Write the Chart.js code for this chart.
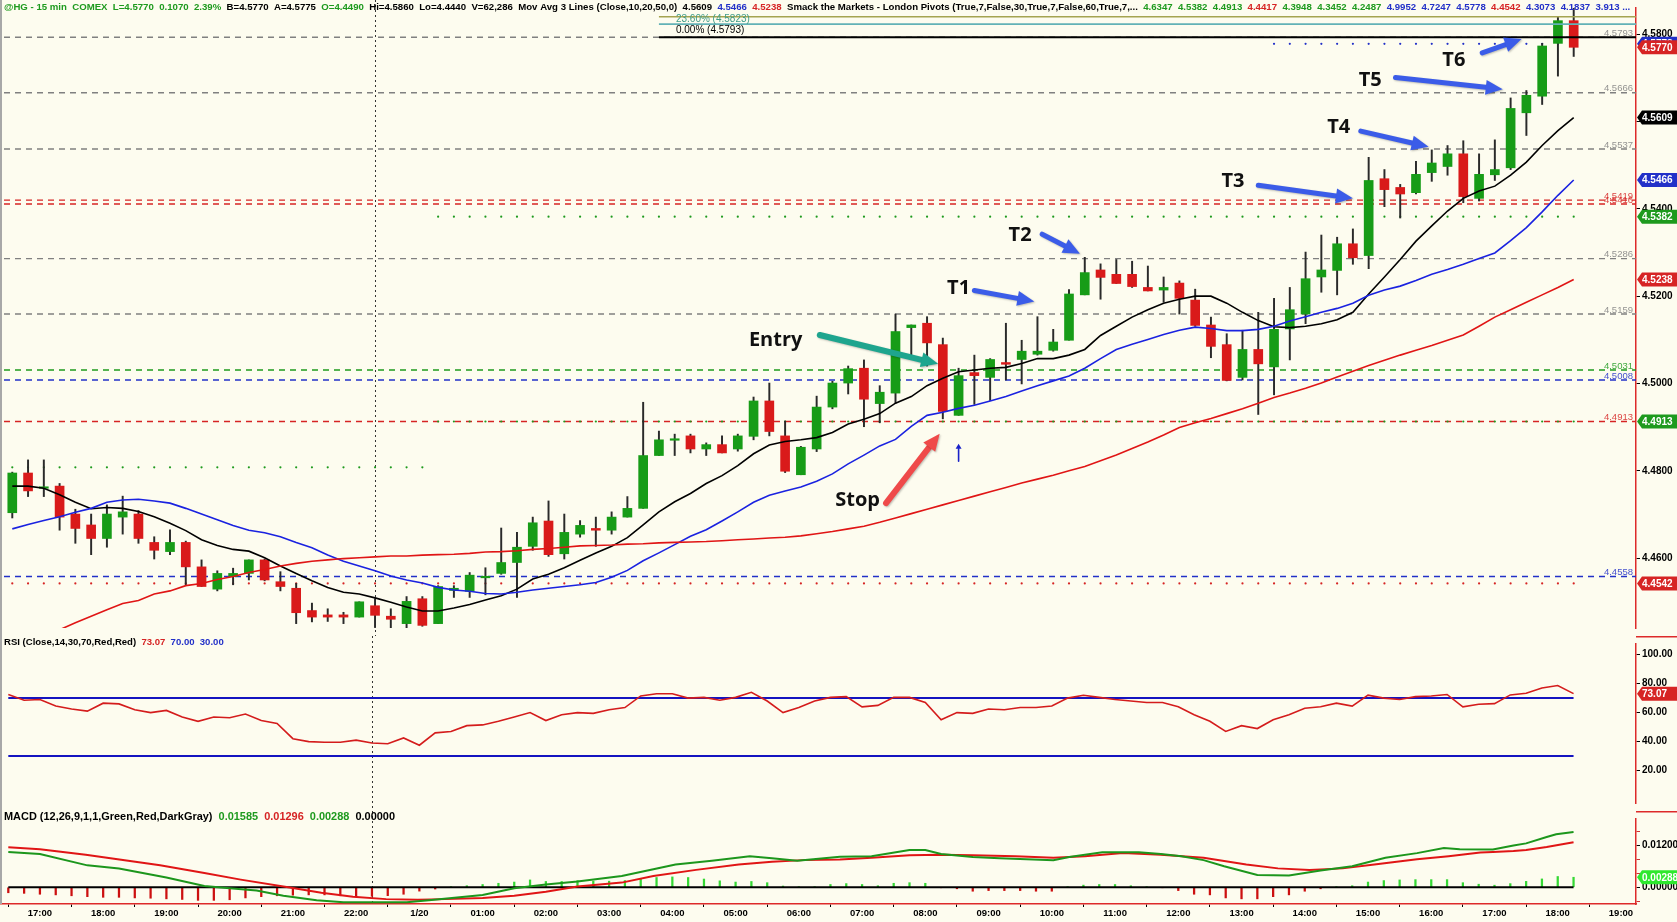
<!DOCTYPE html>
<html>
<head>
<meta charset="utf-8">
<title>@HG - 15 min COMEX</title>
<script src="https://cdn.jsdelivr.net/npm/chart.js@4.4.1/dist/chart.umd.min.js"></script>
<style>
  body { margin: 0; background: #fdfcef; }
  #wrap { position: relative; width: 1677px; height: 922px; overflow: hidden; background: #fdfcef; }
  #wrap canvas { position: absolute; left: 0; }
  #edge { position: absolute; left: 0; top: 0; width: 2px; height: 904px; background: #a8a8a8; }
</style>
</head>
<body>
<div id="wrap">
  <canvas id="price-chart" width="1677" height="636" style="top:0"></canvas>
  <canvas id="rsi-chart" width="1677" height="175" style="top:636px"></canvas>
  <canvas id="macd-chart" width="1677" height="111" style="top:811px"></canvas>
  <div id="edge"></div>
</div>
<script>
// ===== DATA (15 min bars, bar 0 = 16:30) =====
const opens = [4.4704,4.4795,4.4760,4.4765,4.4701,4.4676,4.4645,4.4694,4.4701,4.4636,
  4.4615,4.4636,4.4580,4.4529,4.4558,4.4565,4.4596,4.4546,4.4531,4.4480,
  4.4470,4.4470,4.4465,4.4491,4.4467,4.4450,4.4507,4.4450,4.4526,4.4524,
  4.4555,4.4565,4.4590,4.4627,4.4685,4.4610,4.4655,4.4668,4.4664,4.4694,
  4.4714,4.4835,4.4870,4.4880,4.4850,4.4860,4.4850,4.4879,4.4960,4.4880,
  4.4791,4.4850,4.4946,4.5001,4.5035,4.4954,4.4978,4.5128,4.5138,4.5089,
  4.4927,4.5025,4.5014,4.5048,4.5055,4.5067,4.5076,4.5099,4.5203,4.5260,
  4.5250,4.5250,4.5220,4.5214,4.5230,4.5191,4.5134,4.5089,4.5014,4.5078,
  4.5038,4.5125,4.5159,4.5244,4.5259,4.5320,4.5293,4.5469,4.5449,4.5437,
  4.5483,4.5497,4.5526,4.5424,4.5478,4.5494,4.5620,4.5658,4.5779,4.5831];
const highs = [4.4797,4.4825,4.4825,4.4771,4.4712,4.4701,4.4722,4.4742,4.4709,4.4649,
  4.4665,4.4639,4.4596,4.4571,4.4577,4.4596,4.4598,4.4569,4.4542,4.4497,
  4.4484,4.4476,4.4500,4.4507,4.4484,4.4512,4.4512,4.4537,4.4537,4.4567,
  4.4578,4.4669,4.4659,4.4694,4.4731,4.4701,4.4686,4.4694,4.4706,4.4741,
  4.4957,4.4891,4.4884,4.4884,4.4864,4.4880,4.4884,4.4969,4.5001,4.4914,
  4.4856,4.4971,4.5005,4.5040,4.5054,4.4995,4.5159,4.5134,4.5153,4.5104,
  4.5035,4.5065,4.5057,4.5138,4.5099,4.5153,4.5124,4.5215,4.5289,4.5274,
  4.5284,4.5280,4.5269,4.5244,4.5235,4.5216,4.5152,4.5114,4.5122,4.5163,
  4.5195,4.5220,4.5301,4.5340,4.5335,4.5354,4.5518,4.5490,4.5456,4.5509,
  4.5535,4.5545,4.5556,4.5526,4.5558,4.5654,4.5671,4.5779,4.5840,4.5860];
const lows = [4.4692,4.4741,4.4741,4.4664,4.4634,4.4608,4.4625,4.4655,4.4634,4.4598,
  4.4608,4.4539,4.4535,4.4525,4.4539,4.4550,4.4548,4.4525,4.4450,4.4454,
  4.4455,4.4450,4.4465,4.4441,4.4440,4.4440,4.4444,4.4450,4.4510,4.4510,
  4.4516,4.4563,4.4510,4.4618,4.4604,4.4598,4.4648,4.4627,4.4655,4.4694,
  4.4714,4.4835,4.4835,4.4841,4.4835,4.4841,4.4845,4.4871,4.4880,4.4796,
  4.4791,4.4844,4.4942,4.4976,4.4901,4.4910,4.4955,4.5057,4.5040,4.4919,
  4.4927,4.4952,4.4961,4.5008,4.4999,4.5065,4.5074,4.5099,4.5203,4.5193,
  4.5229,4.5220,4.5212,4.5186,4.5159,4.5131,4.5059,4.5006,4.5008,4.4929,
  4.4974,4.5054,4.5137,4.5209,4.5203,4.5273,4.5263,4.5405,4.5379,4.5434,
  4.5463,4.5477,4.5414,4.5418,4.5465,4.5490,4.5568,4.5639,4.5704,4.5749];
const closes = [4.4795,4.4754,4.4762,4.4694,4.4668,4.4645,4.4701,4.4706,4.4645,4.4618,
  4.4636,4.4580,4.4535,4.4565,4.4565,4.4596,4.4550,4.4535,4.4475,4.4465,
  4.4465,4.4465,4.4500,4.4469,4.4460,4.4501,4.4446,4.4535,4.4531,4.4561,
  4.4557,4.4590,4.4625,4.4681,4.4608,4.4659,4.4675,4.4664,4.4694,4.4714,
  4.4835,4.4871,4.4872,4.4850,4.4860,4.4841,4.4880,4.4960,4.4890,4.4799,
  4.4854,4.4946,4.5001,4.5034,4.4964,4.4980,4.5119,4.5134,4.5093,4.4936,
  4.5018,4.5018,4.5055,4.5044,4.5074,4.5074,4.5095,4.5205,4.5254,4.5243,
  4.5229,4.5222,4.5212,4.5220,4.5195,4.5133,4.5085,4.5007,4.5078,4.5045,
  4.5124,4.5169,4.5240,4.5260,4.5320,4.5288,4.5465,4.5444,4.5434,4.5479,
  4.5505,4.5526,4.5428,4.5479,4.5490,4.5630,4.5660,4.5773,4.5831,4.5770];

// Moving averages as drawn (10 black, 20 blue, 50 red)
const ma10 = [4.4765,4.4765,4.4760,4.4745,4.4728,4.4713,4.4716,4.4714,4.4707,4.4695,
  4.4680,4.4663,4.4642,4.4629,4.4620,4.4616,4.4601,4.4582,4.4565,4.4548,
  4.4533,4.4522,4.4518,4.4509,4.4499,4.4488,4.4479,4.4479,4.4486,4.4494,
  4.4504,4.4514,4.4529,4.4552,4.4563,4.4578,4.4595,4.4612,4.4627,4.4647,
  4.4676,4.4706,4.4729,4.4748,4.4771,4.4789,4.4812,4.4839,4.4859,4.4867,
  4.4871,4.4876,4.4888,4.4907,4.4918,4.4931,4.4955,4.4970,4.4995,4.5012,
  4.5027,4.5031,4.5035,4.5037,4.5046,4.5057,4.5057,4.5065,4.5078,4.5110,
  4.5131,4.5152,4.5169,4.5184,4.5193,4.5200,4.5200,4.5184,4.5163,4.5144,
  4.5130,4.5128,4.5131,4.5137,4.5146,4.5163,4.5205,4.5244,4.5284,4.5326,
  4.5361,4.5395,4.5424,4.5441,4.5452,4.5477,4.5507,4.5545,4.5579,4.5609];
const ma20 = [4.4667,4.4677,4.4686,4.4695,4.4705,4.4714,4.4728,4.4733,4.4735,4.4731,
  4.4726,4.4714,4.4701,4.4688,4.4675,4.4664,4.4658,4.4649,4.4636,4.4624,
  4.4607,4.4593,4.4582,4.4571,4.4559,4.4550,4.4543,4.4533,4.4527,4.4524,
  4.4519,4.4518,4.4522,4.4527,4.4531,4.4535,4.4539,4.4544,4.4556,4.4572,
  4.4594,4.4612,4.4631,4.4650,4.4665,4.4685,4.4706,4.4728,4.4744,4.4754,
  4.4763,4.4776,4.4793,4.4816,4.4836,4.4857,4.4872,4.4902,4.4927,4.4934,
  4.4943,4.4950,4.4960,4.4970,4.4983,4.4995,4.5006,4.5017,4.5035,4.5057,
  4.5078,4.5090,4.5101,4.5112,4.5122,4.5129,4.5126,4.5121,4.5121,4.5124,
  4.5131,4.5143,4.5153,4.5163,4.5172,4.5184,4.5202,4.5214,4.5223,4.5236,
  4.5250,4.5261,4.5273,4.5286,4.5299,4.5327,4.5357,4.5393,4.5431,4.5466];
const ma50First = 3;
const ma50 = [4.4436,4.4452,4.4467,4.4482,4.4496,4.4503,4.4518,
  4.4525,4.4537,4.4542,4.4551,4.4558,4.4567,4.4574,4.4582,4.4588,4.4593,
  4.4596,4.4599,4.4601,4.4603,4.4605,4.4605,4.4607,4.4608,4.4609,4.4611,
  4.4614,4.4615,4.4617,4.4620,4.4622,4.4625,4.4628,4.4629,4.4630,4.4632,
  4.4633,4.4635,4.4636,4.4637,4.4638,4.4640,4.4642,4.4644,4.4646,4.4648,
  4.4651,4.4656,4.4661,4.4667,4.4673,4.4682,4.4692,4.4702,4.4712,4.4722,
  4.4732,4.4742,4.4752,4.4762,4.4772,4.4781,4.4790,4.4800,4.4810,4.4823,
  4.4836,4.4851,4.4866,4.4882,4.4899,4.4910,4.4920,4.4931,4.4942,4.4955,
  4.4968,4.4978,4.4989,4.5001,4.5015,4.5028,4.5041,4.5053,4.5065,4.5076,
  4.5087,4.5099,4.5111,4.5131,4.5152,4.5169,4.5186,4.5203,4.5220,4.5238];

const rsi = [72.5,68.5,69,64.5,62.5,61,66.5,66,62,60,
  61.5,57,54,57,56.5,59,54.5,52.5,42,40,
  39.5,39.5,41,39,38.5,42.5,37.5,46,47,51,
  51.5,54,57,60,54.5,58.5,60,59.5,62,63.5,
  71.5,73,73,70,70.5,68.5,70.5,74,68,60,
  63.5,68,70.5,71,64,65,70.5,70.5,67,55,
  60,59.5,62.5,62,63.5,63.5,64.5,70,72,70.5,
  69,68,67,67,64,58.5,54,47,51,49,
  55,58.5,63,64,66.5,64.5,72,70,69,71,
  71.5,72.5,64,65.8,66.2,72.2,73.4,77,78.7,73.07];
const rsiBands = [70, 30];

// MACD lines (bar position, value)
const macdAt = [0,2,5,7,10,12.4,14,15.7,17.4,19.5,21.2,25.2,26.6,30,32,34,36,38.8,40.8,42.2,
  44.5,46.9,48.3,49.9,52.6,54.6,57,58,59,61,62.7,66.1,67.1,69.2,71.5,72.9,74.2,75.6,76.9,79,
  81,83,85,87.1,89.1,90.8,91.8,93.9,95.2,96,97.3,97.9,99];
const macdLine = [0.0101,0.00955,0.0063,0.0054,0.0028,0.0004,-0.00025,-0.00095,-0.0024,-0.00375,
  -0.0043,-0.0043,-0.00375,-0.0022,-0.00025,0.0008,0.00167,0.00325,0.00517,0.00657,
  0.00762,0.00894,0.00832,0.00762,0.00876,0.00893,0.01068,0.01068,0.00954,0.00867,
  0.00832,0.0078,0.00867,0.01007,0.01007,0.00954,0.00893,0.0078,0.00605,0.00351,
  0.00342,0.00482,0.00605,0.0085,0.00981,0.01129,0.01094,0.01086,0.0120,0.01261,
  0.01445,0.01523,0.01585];
const signalAt = [0,2,4.9,9.6,12.4,14.7,17.8,19.8,21.8,23.9,25.9,27.6,30,32,34,36,38.8,40.8,43.5,46.2,
  48.3,50.3,52.6,54.6,57,59,61,63.7,66.1,68.1,70.5,72.9,75.6,78.3,80.3,82.3,84.4,86.4,89.1,91.1,
  93.1,93.9,95.2,96,97.3,99];
const signalLine = [0.0115,0.01095,0.00937,0.00631,0.00412,0.0022,-0.00008,-0.00157,-0.0027,-0.0034,
  -0.00358,-0.0034,-0.00305,-0.00244,-0.0013,0.0002,0.00134,0.00325,0.005,0.00657,
  0.00736,0.0078,0.008,0.0085,0.0092,0.00937,0.0092,0.00893,0.0085,0.00893,
  0.00981,0.00937,0.0085,0.00657,0.00543,0.005,0.00543,0.00657,0.00806,0.00893,
  0.00998,0.01015,0.01041,0.01068,0.01155,0.01296];
const histogram = [-0.00157,-0.00174,-0.002,-0.00218,-0.00244,-0.0027,-0.00288,-0.00288,-0.00305,-0.00314,
  -0.00332,-0.00349,-0.00375,-0.00375,-0.00358,-0.00305,-0.0027,-0.00244,-0.00227,-0.00218,
  -0.00218,-0.00244,-0.0027,-0.0026,-0.0024,-0.002,-0.0011,-0.0005,0.00018,0.00045,
  0.0008,0.00115,0.0015,0.00211,0.00167,0.00167,0.00193,0.00176,0.00176,0.00193,
  0.00255,0.00281,0.00298,0.00281,0.00237,0.00185,0.0015,0.00167,0.00132,0.00036,
  0.00018,0.00018,0.0008,0.00106,0.0008,0.00045,0.00115,0.00132,0.00115,-0.00008,
  -0.00043,-0.00113,-0.00095,-0.00095,-0.00095,-0.00113,-0.00113,0.00018,0.00062,0.0008,
  0.0008,0.00045,0.00018,-0.00008,-0.00095,-0.002,-0.00218,-0.00305,-0.00332,-0.00332,
  -0.0027,-0.00218,-0.00113,-0.00043,0.00018,0.00045,0.0015,0.00193,0.00211,0.0022,
  0.0022,0.0022,0.00132,0.00088,0.0006,0.00105,0.0017,0.0024,0.0031,0.00288];

// time axis
const timeTicks = [2,6,10,14,18,22,26,30,34,38,42,46,50,54,58,62,66,70,74,78,82,86,90,94,98,102];
const timeLabels = ['17:00','18:00','19:00','20:00','21:00','22:00','1/20','01:00','02:00','03:00',
  '04:00','05:00','06:00','07:00','08:00','09:00','10:00','11:00','12:00','13:00','14:00','15:00',
  '16:00','17:00','18:00','19:00'];
const sessionBreak = 23;

// price axis / pivots
const priceTicks = [4.46,4.48,4.50,4.52,4.54,4.56,4.58];
const pivotLevels = [4.5793,4.5666,4.5537,4.5420,4.5411,4.5286,4.5159,4.5031,4.5008,4.4913,4.4558];
const pivotKinds  = ['g','g','g','r','r','g','g','G','b','r','b'];
const pivotNames  = ['4.5793','4.5666','4.5537','4.5419','4.5416','4.5286','4.5159','4.5031','4.5008','4.4913','4.4558'];
const dotLevels = [4.4808,4.5382,4.4913,4.4542,4.5778];
const dotFrom   = [0,27,27,0,80];
const dotTo     = [26,99,99,99,99];
const dotKinds  = ['G','G','G','r','b'];
const fibStart = 41;
const fibLevels = [4.5840,4.5823,4.5793];
const priceTags = [4.5778,4.5770,4.5609,4.5466,4.5382,4.5238,4.4913,4.4542];
const priceTagKinds = ['b','r','k','b','G','r','G','r'];

// chart call-outs: [label, bar, price]
const callouts = [['Entry',48.4,4.5098],['Stop',53.6,4.4733],['T1',60.0,4.5218],['T2',63.9,4.5340],
  ['T3',77.4,4.5462],['T4',84.1,4.5587],['T5',86.1,4.5695],['T6',91.4,4.5740]];
// arrows: [fromBar, fromPrice, toBar, toPrice, kind]
const arrows = [[51.2,4.5111,58.7,4.5045,'teal'],[55.4,4.4726,58.8,4.4885,'salmon'],
  [61.0,4.5213,64.8,4.5188,'blue'],[65.3,4.5342,67.7,4.5297,'blue'],[79.0,4.5454,85.0,4.5424,'blue'],
  [85.5,4.5578,89.8,4.5542,'blue'],[87.7,4.5701,94.5,4.5674,'blue'],[93.2,4.5757,95.7,4.5789,'blue']];
const entryMark = [60, 4.4822, 4.4862];

// ===== STYLE =====
const X_MIN = -0.525, X_MAX = 102.95;
const FONT = '"Liberation Sans", Arial, sans-serif';
const C = { g: '#808080', r: '#d62424', G: '#1e9a1e', b: '#2230c8', k: '#000000',
  up: '#179c17', down: '#d91a1a', teal: '#1ea58e', salmon: '#ef4a4a', blue: '#3b5ce8' };
const bars = closes.map((c, i) => i);

function rightAxis(min, max, ticks, fmt, extra) {
  return Object.assign({
    position: 'right', min, max,
    afterFit: s => { s.width = 41; },
    afterBuildTicks: s => { s.ticks = ticks.map(v => ({ value: v })); },
    grid: { drawOnChartArea: false, tickLength: 4, color: '#000' },
    border: { color: '#dd2a2a', width: 1.5 },
    ticks: { font: { family: FONT, weight: 'bold', size: 10 }, color: '#000', padding: 2, callback: fmt }
  }, extra || {});
}
const hiddenX = { type: 'linear', min: X_MIN, max: X_MAX, display: false, offset: false };
const base = { responsive: false, animation: false, devicePixelRatio: 1,
  plugins: { legend: { display: false }, tooltip: { enabled: false } } };

function flatLine(y, from, to, color, width, dash, order) {
  return { type: 'line', data: [{ x: from, y }, { x: to, y }], borderColor: color, borderWidth: width,
    borderDash: dash, pointRadius: 0, order };
}
function daySeparator(chart, bottom) {
  const { ctx, scales: { x } } = chart;
  const px = Math.round(x.getPixelForValue(sessionBreak)) + 0.5;
  ctx.save();
  ctx.strokeStyle = '#333'; ctx.lineWidth = 1; ctx.setLineDash([2, 3]);
  ctx.beginPath(); ctx.moveTo(px, 0); ctx.lineTo(px, bottom); ctx.stroke();
  ctx.restore();
}
function axisTag(chart, value, text, bg) {
  const { ctx, scales: { y } } = chart;
  const yy = y.getPixelForValue(value), x0 = y.left + 1, h = 14;
  ctx.save();
  ctx.fillStyle = bg;
  ctx.beginPath();
  ctx.moveTo(x0, yy); ctx.lineTo(x0 + 5, yy - h / 2); ctx.lineTo(chart.width, yy - h / 2);
  ctx.lineTo(chart.width, yy + h / 2); ctx.lineTo(x0 + 5, yy + h / 2); ctx.closePath(); ctx.fill();
  ctx.fillStyle = '#fff'; ctx.font = 'bold 10px ' + FONT; ctx.textBaseline = 'middle'; ctx.textAlign = 'left';
  ctx.fillText(text, x0 + 5, yy + 0.5);
  ctx.restore();
}
function textRuns(ctx, runs, x, y, width) {
  ctx.font = 'bold 10px ' + FONT;
  const gap = ctx.measureText('  ').width;
  const total = runs.reduce((s, r) => s + ctx.measureText(r[0]).width, 0) + gap * (runs.length - 1);
  const size = 10 * width / total;
  ctx.font = 'bold ' + size.toFixed(2) + 'px ' + FONT;
  ctx.textBaseline = 'middle'; ctx.textAlign = 'left';
  const g = ctx.measureText('  ').width;
  runs.forEach(r => { ctx.fillStyle = r[1]; ctx.fillText(r[0], x, y); x += ctx.measureText(r[0]).width + g; });
}
function sepLine(chart) {
  const { ctx, scales: { y } } = chart;
  ctx.save(); ctx.strokeStyle = '#dd2a2a'; ctx.lineWidth = 1.5;
  ctx.beginPath(); ctx.moveTo(y.left, 0.75); ctx.lineTo(chart.width, 0.75); ctx.stroke(); ctx.restore();
}
function drawArrow(ctx, x1, y1, x2, y2, color, w, hl, hw, shadow) {
  const a = Math.atan2(y2 - y1, x2 - x1);
  const bx = x2 - hl * Math.cos(a), by = y2 - hl * Math.sin(a);
  ctx.save();
  if (shadow) { ctx.shadowColor = 'rgba(0,0,0,0.25)'; ctx.shadowBlur = 2; ctx.shadowOffsetX = 1; ctx.shadowOffsetY = 1; }
  ctx.strokeStyle = color; ctx.lineWidth = w; ctx.lineCap = 'round';
  ctx.beginPath(); ctx.moveTo(x1, y1); ctx.lineTo(bx, by); ctx.stroke();
  ctx.fillStyle = color;
  ctx.beginPath(); ctx.moveTo(x2, y2);
  ctx.lineTo(bx + hw * Math.sin(a), by - hw * Math.cos(a));
  ctx.lineTo(bx - hw * Math.sin(a), by + hw * Math.cos(a));
  ctx.closePath(); ctx.fill();
  ctx.restore();
}

// ===== PRICE PANEL =====
const priceSets = [];
pivotLevels.forEach((v, k) => priceSets.push(flatLine(v, X_MIN, X_MAX, C[pivotKinds[k]], 1.4, [6, 5], 10)));
dotLevels.forEach((v, k) => {
  const pts = bars.filter(i => i >= dotFrom[k] && i <= dotTo[k]).map(i => ({ x: i, y: v }));
  priceSets.push({ type: 'line', data: pts, showLine: false, pointRadius: 1.1, pointBorderWidth: 0,
    pointBackgroundColor: C[dotKinds[k]], order: 9 });
});
priceSets.push({ type: 'bar', data: bars.map(i => ({ x: i, y: [lows[i], highs[i]] })),
  backgroundColor: '#2a2a2a', barThickness: 1.3, grouped: false, order: 4 });
priceSets.push({ type: 'bar', data: bars.map(i => ({ x: i, y: [opens[i], closes[i]] })),
  backgroundColor: bars.map(i => closes[i] >= opens[i] ? C.up : C.down),
  barThickness: 9, grouped: false, minBarLength: 1.5, order: 3 });
priceSets.push({ type: 'line', data: ma50.map((v, k) => ({ x: k + ma50First, y: v })), borderColor: '#e01515', borderWidth: 1.6, pointRadius: 0, order: 2 });
priceSets.push({ type: 'line', data: bars.map(i => ({ x: i, y: ma20[i] })), borderColor: '#1a22e0', borderWidth: 1.6, pointRadius: 0, order: 2 });
priceSets.push({ type: 'line', data: bars.map(i => ({ x: i, y: ma10[i] })), borderColor: '#000', borderWidth: 1.6, pointRadius: 0, order: 2 });
priceSets.push(flatLine(fibLevels[0], fibStart, X_MAX, '#a5a450', 1.3, [], 1));
priceSets.push(flatLine(fibLevels[1], fibStart, X_MAX, '#62b2b6', 1.8, [], 1));
priceSets.push(flatLine(fibLevels[2], fibStart, X_MAX, '#000', 2, [], 1));

const priceOverlay = {
  id: 'priceOverlay',
  beforeDatasetsDraw(chart) { daySeparator(chart, chart.height); },
  afterDatasetsDraw(chart) {
    const { ctx, scales: { x, y } } = chart;
    const px = v => x.getPixelForValue(v), py = v => y.getPixelForValue(v);
    ctx.save();
    ctx.font = '9.5px ' + FONT; ctx.textAlign = 'right'; ctx.textBaseline = 'middle';
    pivotNames.forEach((t, k) => {
      ctx.fillStyle = C[pivotKinds[k]]; ctx.globalAlpha = 0.85;
      ctx.fillText(t, x.right - 3, py(pivotLevels[k]) - 4);
    });
    ctx.globalAlpha = 1;
    ctx.textAlign = 'left'; ctx.font = '10px ' + FONT;
    ctx.fillStyle = '#3f9c88'; ctx.fillText('23.60% (4.5823)', px(fibStart) + 17, py(fibLevels[1]) - 5);
    ctx.fillStyle = '#000'; ctx.fillText('0.00% (4.5793)', px(fibStart) + 17, py(fibLevels[2]) - 7);
    arrows.forEach(a => drawArrow(ctx, px(a[0]), py(a[1]), px(a[2]), py(a[3]), C[a[4]],
      a[4] === 'blue' ? 5 : 6, 17, 7.5, true));
    // thin up arrow under the entry bar
    drawArrow(ctx, px(entryMark[0]), py(entryMark[1]), px(entryMark[0]), py(entryMark[2]), '#1a22c8', 1.6, 5, 3, false);
    ctx.font = 'bold 20px "Open Sans", ' + FONT; ctx.textAlign = 'center'; ctx.textBaseline = 'middle'; ctx.fillStyle = '#111';
    callouts.forEach(c => ctx.fillText(c[0], px(c[1]), py(c[2])));
    ctx.restore();
  },
  afterDraw(chart) {
    priceTags.forEach((v, k) => axisTag(chart, v, v.toFixed(4), C[priceTagKinds[k]]));
    const ctx = chart.ctx;
    ctx.save();
    textRuns(ctx, [['@HG - 15 min', C.G], ['COMEX', C.G], ['L=4.5770', C.G], ['0.1070', C.G], ['2.39%', C.G],
      ['B=4.5770', '#000'], ['A=4.5775', '#000'], ['O=4.4490', C.G], ['Hi=4.5860', '#000'], ['Lo=4.4440', '#000'],
      ['V=62,286', '#000'], ['Mov Avg 3 Lines (Close,10,20,50,0)', '#000'], ['4.5609', '#000'], ['4.5466', C.b],
      ['4.5238', C.r], ['Smack the Markets - London Pivots (True,7,False,30,True,7,False,60,True,7,...', '#000'],
      ['4.6347', C.G], ['4.5382', C.G], ['4.4913', C.G], ['4.4417', C.r], ['4.3948', C.G], ['4.3452', C.G],
      ['4.2487', C.G], ['4.9952', C.b], ['4.7247', C.b], ['4.5778', C.b], ['4.4542', C.r], ['4.3073', C.b],
      ['4.1837', C.b], ['3.913 ...', C.b]], 4, 7, 1628);
    ctx.restore();
  }
};

new Chart(document.getElementById('price-chart'), {
  type: 'bar',
  data: { datasets: priceSets },
  options: Object.assign({}, base, {
    layout: { padding: { top: 7.7, bottom: 1.8, left: 0, right: 0 } },
    scales: { x: hiddenX, y: rightAxis(4.444, 4.586, priceTicks, v => v.toFixed(4)) }
  }),
  plugins: [priceOverlay]
});

// ===== RSI PANEL =====
new Chart(document.getElementById('rsi-chart'), {
  type: 'line',
  data: { datasets: [
    flatLine(rsiBands[0], 0, 99, '#1414c0', 2, [], 2),
    flatLine(rsiBands[1], 0, 99, '#1414c0', 2, [], 2),
    { data: bars.map(i => ({ x: i, y: rsi[i] })), borderColor: '#d41c1c', borderWidth: 1.6, pointRadius: 0, order: 1 }
  ] },
  options: Object.assign({}, base, {
    layout: { padding: 0 },
    scales: { x: hiddenX, y: rightAxis(-2.38, 107.34, [20, 40, 60, 80, 100], v => v.toFixed(2)) }
  }),
  plugins: [{
    id: 'rsiOverlay',
    beforeDatasetsDraw(chart) { daySeparator(chart, chart.height); },
    afterDraw(chart) {
      sepLine(chart);
      axisTag(chart, rsi[99], rsi[99].toFixed(2), C.r);
      chart.ctx.save();
      textRuns(chart.ctx, [['RSI (Close,14,30,70,Red,Red)', '#000'], ['73.07', C.r], ['70.00', C.b], ['30.00', C.b]], 4, 6, 220);
      chart.ctx.restore();
    }
  }]
});

// ===== MACD PANEL =====
const macdTicks = [-0.004,-0.002,0,0.002,0.004,0.006,0.008,0.01,0.012,0.014,0.016,0.018];
const isMajor = v => Math.abs(Math.round(v / 0.006) * 0.006 - v) < 1e-9;
new Chart(document.getElementById('macd-chart'), {
  type: 'bar',
  data: { datasets: [
    { type: 'bar', data: bars.map(i => ({ x: i, y: histogram[i] })),
      backgroundColor: bars.map(i => histogram[i] >= 0 ? '#35d835' : '#cc1010'), barThickness: 1.6, order: 3 },
    flatLine(0, 0, 99, '#000', 2, [], 2),
    { type: 'line', data: signalAt.map((x, k) => ({ x, y: signalLine[k] })), borderColor: '#e01515', borderWidth: 2, pointRadius: 0, order: 1 },
    { type: 'line', data: macdAt.map((x, k) => ({ x, y: macdLine[k] })), borderColor: '#1c961c', borderWidth: 2, pointRadius: 0, order: 0 }
  ] },
  options: Object.assign({}, base, {
    layout: { padding: 0 },
    scales: {
      x: { type: 'linear', min: X_MIN, max: X_MAX, offset: false, position: 'bottom',
        afterFit: s => { s.height = 18; },
        afterBuildTicks: s => { s.ticks = timeTicks.map(v => ({ value: v })); },
        grid: { drawOnChartArea: false, tickLength: 3, color: '#000' },
        border: { color: '#dd2a2a', width: 1.5 },
        ticks: { autoSkip: false, maxRotation: 0, padding: 1, color: '#000',
          font: { family: FONT, weight: 'bold', size: 9.5 }, callback: (v, i) => timeLabels[i] } },
      y: rightAxis(-0.0048, 0.01961, macdTicks, v => isMajor(v) ? v.toFixed(5) : '',
        { grid: { drawOnChartArea: false, tickLength: 4, color: c => (c.tick && isMajor(c.tick.value)) ? '#000' : '#c33' } })
    }
  }),
  plugins: [{
    id: 'macdOverlay',
    beforeDatasetsDraw(chart) { daySeparator(chart, chart.chartArea.bottom); },
    afterDraw(chart) {
      sepLine(chart);
      axisTag(chart, histogram[99], '0.00288', '#2ee82e');
      chart.ctx.save();
      textRuns(chart.ctx, [['MACD (12,26,9,1,1,Green,Red,DarkGray)', '#000'], ['0.01585', C.G], ['0.01296', C.r],
        ['0.00288', C.G], ['0.00000', '#000']], 4, 6, 391);
      chart.ctx.restore();
    }
  }]
});
</script>
</body>
</html>
